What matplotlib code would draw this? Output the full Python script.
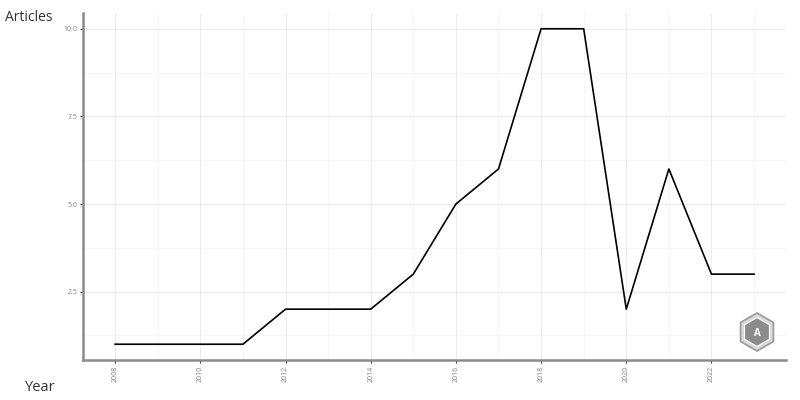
import matplotlib
matplotlib.use("Agg")
import matplotlib.pyplot as plt
from matplotlib.patches import RegularPolygon

years = [2008, 2009, 2010, 2011, 2012, 2013, 2014, 2015, 2016, 2017, 2018, 2019, 2020, 2021, 2022, 2023]
articles = [1, 1, 1, 1, 2, 2, 2, 3, 5, 6, 10, 10, 2, 6, 3, 3]
x_ticks = [2008, 2010, 2012, 2014, 2016, 2018, 2020, 2022]
y_ticks = [2.5, 5.0, 7.5, 10.0]

plt.rcParams['font.family'] = ['Open Sans', 'DejaVu Sans']
fig = plt.figure(figsize=(8, 4), dpi=100)
ax = fig.add_axes([0.104, 0.1, 0.8785, 0.8675])

ax.plot(years, articles, color='black', linewidth=1.2)
ax.set_xlim(2007.25, 2023.75)
ax.set_ylim(0.55, 10.45)
ax.set_xticks(x_ticks)
ax.set_xticklabels([str(t) for t in x_ticks], rotation=90)
ax.set_yticks(y_ticks)
ax.set_yticklabels([f"{t:.1f}" for t in y_ticks])
ax.set_xticks([2009, 2011, 2013, 2015, 2017, 2019, 2021, 2023], minor=True)
ax.set_yticks([1.25, 3.75, 6.25, 8.75], minor=True)
ax.grid(True, which='major', color='#ebebeb', linewidth=0.7)
ax.grid(True, which='minor', color='#f3f3f3', linewidth=0.5)
ax.tick_params(which='minor', length=0)
ax.tick_params(which='major', length=2, width=0.8, color='#333333', labelsize=5, labelcolor='#808080', pad=2)
for s in ['top', 'right']:
    ax.spines[s].set_visible(False)
for s in ['left', 'bottom']:
    ax.spines[s].set_color('#8a8a8a')
    ax.spines[s].set_linewidth(1.8)
ax.set_axisbelow(True)

fig.text(0.006, 0.957, 'Articles', fontsize=10, color='#333333', va='center', ha='left')
fig.text(0.031, 0.032, 'Year', fontsize=10.5, color='#333333', va='center', ha='left')

# logo badge
lax = fig.add_axes([737 / 800, (400 - 352) / 400, 40 / 800, 40 / 400])
lax.set_xlim(-1, 1)
lax.set_ylim(-1, 1)
lax.axis('off')
lax.add_patch(RegularPolygon((0, 0), numVertices=6, radius=0.95, orientation=0,
                             facecolor='#d9d9d9', edgecolor='#9a9a9a', linewidth=1.2))
lax.add_patch(RegularPolygon((0, 0), numVertices=6, radius=0.72, orientation=0,
                             facecolor='#8c8c8c', edgecolor='white', linewidth=0.8))
lax.text(0, -0.05, 'A', fontsize=7, color='white', ha='center', va='center', fontweight='bold')

fig.savefig('out.png', dpi=100)
